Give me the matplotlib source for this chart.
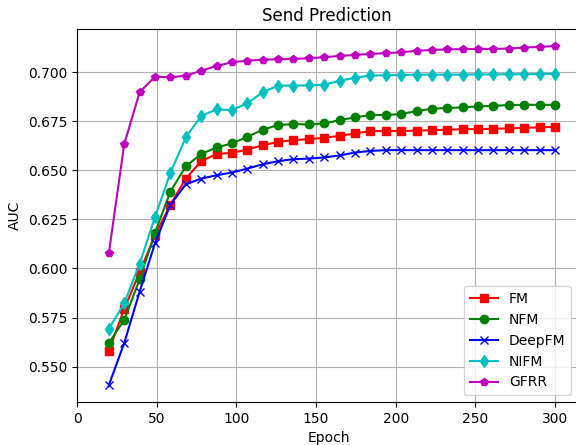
import numpy as np
import matplotlib
matplotlib.use("Agg")
import matplotlib.pyplot as plt

epochs = np.linspace(20, 300, 30)

fm = [0.5581, 0.5794, 0.5981, 0.6169, 0.6325, 0.6458, 0.6547, 0.6583, 0.6589, 0.6606,
      0.6628, 0.6645, 0.6654, 0.6659, 0.6666, 0.6676, 0.6688, 0.6700, 0.6700, 0.6701,
      0.6702, 0.6705, 0.6707, 0.6710, 0.6710, 0.6712, 0.6714, 0.6717, 0.6719, 0.6722]
nfm = [0.5620, 0.5738, 0.5945, 0.6182, 0.6392, 0.6521, 0.6583, 0.6617, 0.6637, 0.6671,
       0.6707, 0.6731, 0.6736, 0.6734, 0.6739, 0.6756, 0.6770, 0.6782, 0.6782, 0.6787,
       0.6802, 0.6814, 0.6818, 0.6821, 0.6826, 0.6829, 0.6833, 0.6834, 0.6834, 0.6834]
deepfm = [0.5406, 0.5620, 0.5882, 0.6129, 0.6325, 0.6429, 0.6458, 0.6475, 0.6489, 0.6509,
          0.6531, 0.6547, 0.6557, 0.6560, 0.6566, 0.6576, 0.6591, 0.6599, 0.6603, 0.6603,
          0.6603, 0.6603, 0.6603, 0.6603, 0.6603, 0.6603, 0.6603, 0.6603, 0.6603, 0.6603]
nifm = [0.5692, 0.5823, 0.6024, 0.6262, 0.6487, 0.6668, 0.6777, 0.6811, 0.6807, 0.6842,
        0.6898, 0.6932, 0.6932, 0.6933, 0.6937, 0.6956, 0.6972, 0.6984, 0.6984, 0.6986,
        0.6988, 0.6988, 0.6988, 0.6988, 0.6989, 0.6989, 0.6990, 0.6990, 0.6991, 0.6993]
gfrr = [0.6079, 0.6634, 0.6898, 0.6978, 0.6974, 0.6983, 0.7007, 0.7032, 0.7051, 0.7059,
        0.7064, 0.7066, 0.7068, 0.7071, 0.7077, 0.7083, 0.7088, 0.7094, 0.7097, 0.7102,
        0.7109, 0.7114, 0.7116, 0.7118, 0.7119, 0.7119, 0.7121, 0.7126, 0.7129, 0.7134]

series = [
    ("FM", fm, "r", "s"),
    ("NFM", nfm, "g", "o"),
    ("DeepFM", deepfm, "b", "x"),
    ("NIFM", nifm, "c", "d"),
    ("GFRR", gfrr, "m", "p"),
]

fig = plt.figure(figsize=(5.76, 4.45), dpi=100)
ax = fig.add_axes([77/576, 43/445, (581-77)/576, 373/445])
for name, vals, col, mk in series:
    ax.plot(epochs, vals, color=col, marker=mk, label=name)

ax.set_xlim(0, 316.3)
ax.set_title("Send Prediction", x=0.495)
ax.set_xlabel("Epoch")
ax.set_ylabel("AUC")
ax.grid(True)
ax.legend(loc="lower right", bbox_to_anchor=(0.994, 0.0))
fig.savefig("out.png", dpi=100)
